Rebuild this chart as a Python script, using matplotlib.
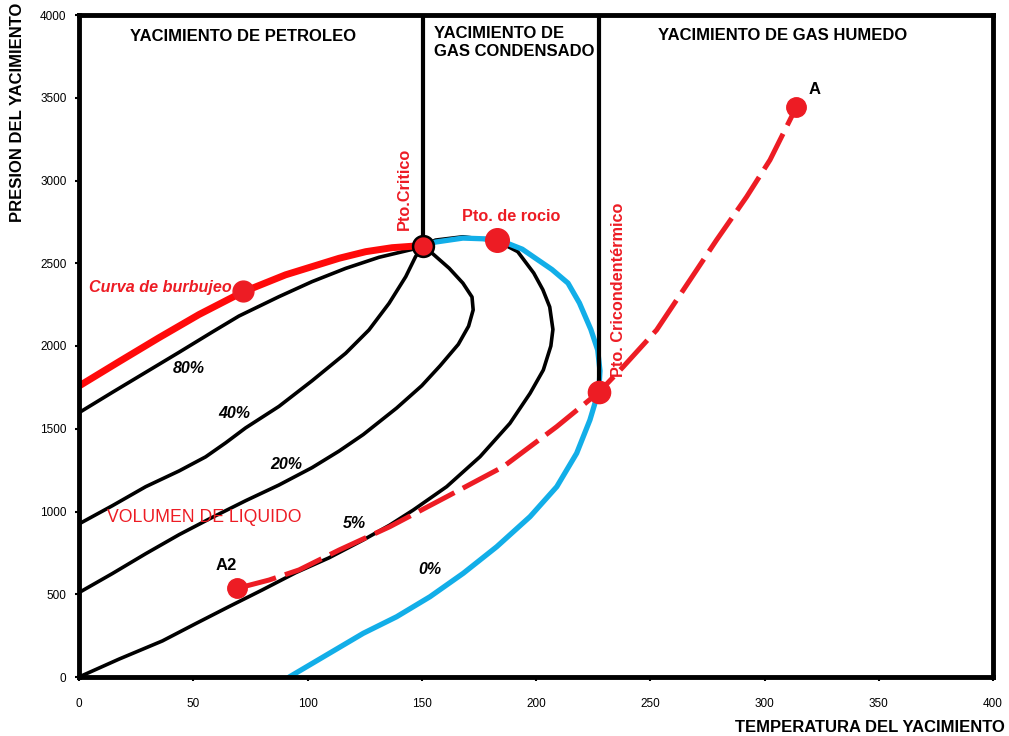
import matplotlib
matplotlib.use("Agg")
import matplotlib.pyplot as plt

plt.rcParams['font.family'] = ['Liberation Sans', 'DejaVu Sans']

# --- data (temperature, pressure) ---
bubble_T = [0, 17.5, 35, 52.5, 71.5, 90.4, 113.8, 125.5, 137, 146, 150.5]
bubble_P = [1758, 1905, 2050, 2190, 2325, 2430, 2530, 2570, 2594, 2603, 2604]

q80_T = [0, 14.6, 29.2, 43.8, 58.4, 70, 87.5, 102, 116.7, 131.3, 145.9, 150.5]
q80_P = [1597, 1720, 1841, 1962, 2085, 2181, 2298, 2389, 2469, 2536, 2584, 2604]

q40_T = [0, 14.6, 29.2, 43.8, 55.4, 64.2, 72.9, 87.5, 102, 116.7, 126.9, 135.7, 143, 147.3, 150.5]
q40_P = [925, 1035, 1150, 1245, 1330, 1415, 1505, 1635, 1790, 1956, 2097, 2258, 2419, 2540, 2604]

q20_T = [0, 14.6, 29.2, 43.8, 58.4, 72.9, 87.5, 102, 113.8, 124.4, 139, 150, 158, 166, 170.5, 172.5,
         172, 168, 162, 155, 150.5]
q20_P = [510, 625, 745, 860, 965, 1065, 1160, 1265, 1365, 1465, 1625, 1760, 1880, 2010, 2120, 2218,
         2296, 2380, 2470, 2555, 2604]

q5_T = [0, 17.5, 36.5, 51, 65.6, 80.2, 94.8, 109.4, 124.4, 136, 146.3, 160.9, 175.5, 188.6, 197.4,
        203.2, 206.5, 207.4, 206, 203, 199, 192, 183, 168, 156, 150.5]
q5_P = [0, 108, 218, 322, 425, 526, 630, 720, 828, 918, 1009, 1150, 1331, 1533, 1714,
        1855, 2000, 2100, 2236, 2340, 2441, 2570, 2635, 2660, 2640, 2604]

dew_T = [150.5, 156, 168, 183, 194, 207, 214, 219, 224, 227, 228, 227.5, 225.8, 223.6, 217.8, 209.1,
         197.4, 182.8, 168.2, 153.6, 139, 124.4, 92]
dew_P = [2604, 2628, 2652, 2645, 2585, 2462, 2380, 2260, 2100, 1976, 1850, 1724, 1654, 1553, 1352, 1150,
         969, 787, 627, 485, 364, 264, 0]

path_T = [69.3, 83.2, 96.3, 113.8, 136, 160.9, 185.7, 209, 227.6, 238.2, 252.8, 267.4, 279, 292.2, 302.4, 314]
path_P = [536, 586, 647, 767, 908, 1089, 1271, 1512, 1722, 1875, 2097, 2399, 2640, 2902, 3124, 3445]

crit = (150.5, 2604)
dew_pt = (183, 2640)
cric = (227.6, 1722)
bub_pt = (71.8, 2330)
pt_A = (314, 3445)
pt_A2 = (69.3, 536)

quality_labels = ['80%', '40%', '20%', '5%', '0%']
quality_pos = [(48, 1867), (68, 1595), (90.6, 1281), (120.4, 930), (153.6, 647)]

RED = '#ED1C24'
BLUE = '#12AEE8'

fig = plt.figure(figsize=(10.09, 7.36), dpi=100)
ax = fig.add_axes([79 / 1009, 59 / 736, 914 / 1009, 662 / 736])
ax.set_xlim(0, 400)
ax.set_ylim(0, 4000)
ax.set_xticks(range(0, 401, 50))
ax.set_yticks(range(0, 4001, 500))
ax.tick_params(axis='x', direction='out', length=3, width=1.5, pad=12, labelsize=8.5)
ax.tick_params(axis='y', direction='out', length=3, width=1.5, pad=6, labelsize=8.5)
for s in ax.spines.values():
    s.set_linewidth(3.5)

# quality lines
for T, P in [(q80_T, q80_P), (q40_T, q40_P), (q20_T, q20_P), (q5_T, q5_P)]:
    ax.plot(T, P, color='black', lw=2.6, solid_joinstyle='round', solid_capstyle='round')

# dew curve and bubble curve
ax.plot(dew_T, dew_P, color=BLUE, lw=3.8, solid_joinstyle='round', solid_capstyle='round')
ax.plot(bubble_T, bubble_P, color='#FF0A0A', lw=5, solid_joinstyle='round')

# region boundaries
ax.plot([crit[0], crit[0]], [crit[1], 4000], color='black', lw=3)
ax.plot([cric[0], cric[0]], [cric[1], 4000], color='black', lw=3)

# isothermal path
ax.plot(path_T, path_P, color=RED, lw=3.6, dashes=(8, 1.9), dash_joinstyle='round')

# points
ax.plot(*crit, 'o', ms=15, mfc=RED, mec='black', mew=1.8)
ax.plot(*dew_pt, 'o', ms=17, mfc=RED, mec=RED)
ax.plot(*cric, 'o', ms=16, mfc=RED, mec=RED)
ax.plot(*bub_pt, 'o', ms=15, mfc=RED, mec=RED)
ax.plot(*pt_A, 'o', ms=14, mfc=RED, mec=RED)
ax.plot(*pt_A2, 'o', ms=14, mfc=RED, mec=RED)

for lab, (x, y) in zip(quality_labels, quality_pos):
    ax.text(x, y, lab, fontsize=11.5, fontweight='bold', fontstyle='italic', ha='center', va='center')

ax.text(71.8, 3873, 'YACIMIENTO DE PETROLEO', fontsize=12, fontweight='bold', ha='center', va='center')
ax.text(155.4, 3831, 'YACIMIENTO DE\nGAS CONDENSADO', fontsize=12, fontweight='bold', ha='left', va='center',
        linespacing=1.25)
ax.text(308, 3879, 'YACIMIENTO DE GAS HUMEDO', fontsize=12, fontweight='bold', ha='center', va='center')

ax.text(142.6, 2700, 'Pto.Critico', color=RED, fontsize=11.7, fontweight='bold', rotation=90,
        ha='center', va='bottom')
ax.text(189, 2785, 'Pto. de rocio', color=RED, fontsize=11.7, fontweight='bold', ha='center', va='center')
ax.text(236.3, 1813, 'Pto. Cricondentérmico', color=RED, fontsize=11.7, fontweight='bold', rotation=90,
        ha='center', va='bottom')
ax.text(4.4, 2356, 'Curva de burbujeo', color=RED, fontsize=11.6, fontweight='bold', fontstyle='italic',
        ha='left', va='center')
ax.text(12.3, 961, 'VOLUMEN DE LIQUIDO', color=RED, fontsize=12.7, ha='left', va='center')
ax.text(322, 3547, 'A', fontsize=12, fontweight='bold', ha='center', va='center')
ax.text(64.3, 671, 'A2', fontsize=12, fontweight='bold', ha='center', va='center')

fig.text(18 / 1009, 1 - 3 / 736, 'PRESION DEL YACIMIENTO', fontsize=12, fontweight='bold', rotation=90,
         ha='center', va='top')
fig.text(1005 / 1009, 1 - 727 / 736, 'TEMPERATURA DEL YACIMIENTO', fontsize=12, fontweight='bold',
         ha='right', va='center')

fig.savefig('out.png', dpi=100)
